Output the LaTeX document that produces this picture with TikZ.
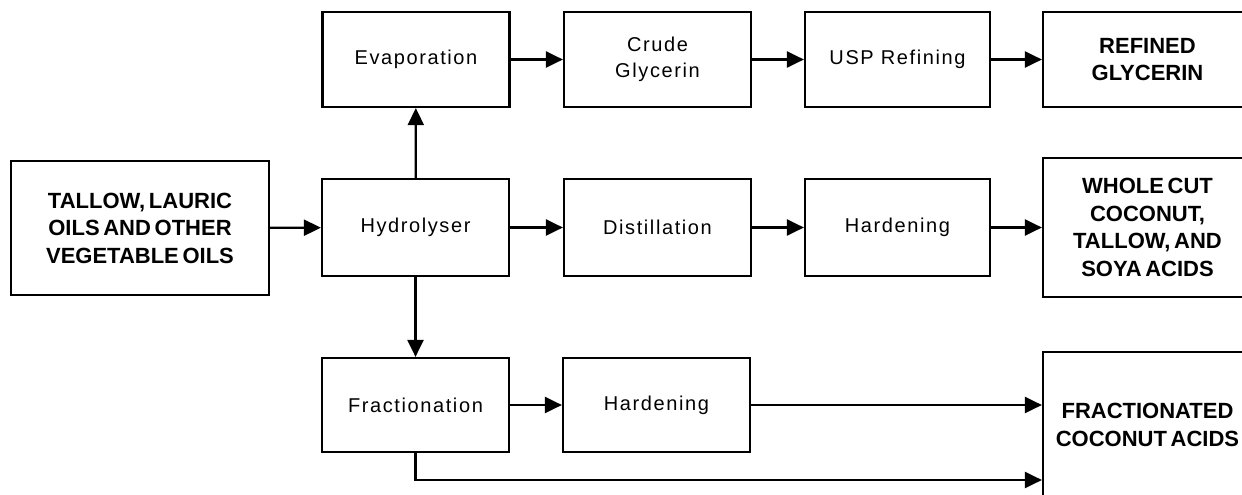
\documentclass[tikz,border=0pt]{standalone}
\usepackage{fontspec}
\setmainfont{Liberation Sans}
\newfontfamily\stepfont[LetterSpace=8]{Liberation Sans}
\newfontfamily\prodfont[WordSpace=0.6]{Liberation Sans Bold}
\usetikzlibrary{arrows.meta}
\tikzset{
  flowbox/.style={draw, line width=2.2pt, rectangle, align=center, inner sep=0pt,
    font=\stepfont\fontsize{20}{26}\selectfont},
  prodbox/.style={flowbox, font=\prodfont\fontsize{22}{27.5}\selectfont},
  flow/.style={line width=2.2pt, -{Triangle[length=17pt,width=16pt]}}
}
\begin{document}
\begin{tikzpicture}[x=1pt,y=-1pt]
\useasboundingbox (0,0) rectangle (1242,495);
\clip (0,0) rectangle (1242,495);
% feedstock and hydrolysis
\node[prodbox, minimum width=258pt, minimum height=134pt] (src) at (140,228)
  {TALLOW, LAURIC\\OILS AND OTHER\\VEGETABLE OILS};
\node[flowbox, minimum width=187pt, minimum height=97pt] (hyd) at (415.5,227.5) {Hydrolyser};
% glycerin line
\node[flowbox, minimum width=187pt, minimum height=95pt] (evap) at (416,59.5) {Evaporation};
\node[flowbox, minimum width=187pt, minimum height=95pt] (crude) at (657.5,59.5) {Crude\\Glycerin};
\node[flowbox, minimum width=185pt, minimum height=95pt] (usp) at (897.5,59.5) {USP Refining};
\node[prodbox, minimum width=209pt, minimum height=95pt] (refined) at (1147.5,59.5) {REFINED\\GLYCERIN};
% whole cut acids line
\node[flowbox, minimum width=187pt, minimum height=97pt] (dist) at (657.5,227.5) {Distillation};
\node[flowbox, minimum width=185pt, minimum height=97pt] (hardA) at (897.5,227.5) {Hardening};
\node[prodbox, minimum width=209pt, minimum height=139pt] (whole) at (1147.5,227.5)
  {WHOLE CUT\\COCONUT,\\TALLOW, AND\\SOYA ACIDS};
% fractionated acids line
\node[flowbox, minimum width=187pt, minimum height=94pt] (frac) at (415.5,405) {Fractionation};
\node[flowbox, minimum width=187pt, minimum height=94pt] (hardB) at (656.5,405) {Hardening};
\node[draw, line width=2.2pt, minimum width=209pt, minimum height=146pt] (fracbox) at (1147.5,425) {};
\node[font=\prodfont\fontsize{22}{27.5}\selectfont, align=center] (fraclbl) at (fracbox.center)
  {FRACTIONATED\\COCONUT ACIDS};
\coordinate (bend) at (frac.south |- 0,480);
% connectors
\draw[flow] (src) -- (hyd);
\draw[flow] (hyd) -- (evap);
\draw[flow] (hyd) -- (frac);
\draw[flow] (evap) -- (crude);
\draw[flow] (crude) -- (usp);
\draw[flow] (usp) -- (refined);
\draw[flow] (hyd) -- (dist);
\draw[flow] (dist) -- (hardA);
\draw[flow] (hardA) -- (whole);
\draw[flow] (frac) -- (hardB);
\draw[flow] (hardB.east) -- (hardB.east -| fracbox.west);
\draw[flow] (frac.south) -- (bend) -- (bend -| fracbox.west);
\end{tikzpicture}
\end{document}
